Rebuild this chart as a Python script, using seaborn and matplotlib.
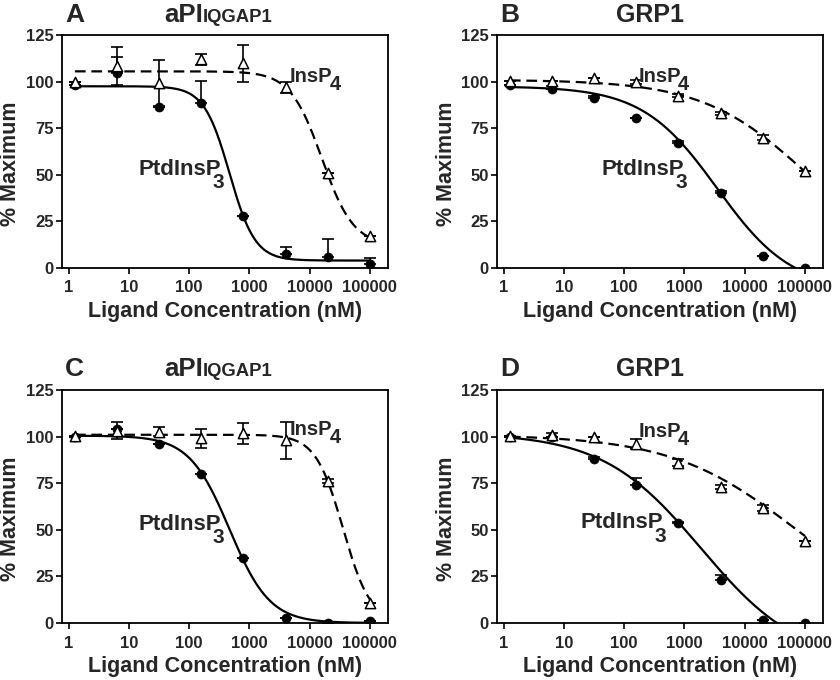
import matplotlib
matplotlib.use("Agg")
import matplotlib.pyplot as plt
import numpy as np
import seaborn as sns
from matplotlib.ticker import FixedLocator, NullLocator

# ligand concentrations (nM), 5-fold dilutions
conc = [1.28, 6.4, 32, 160, 800, 4000, 20000, 100000]
xticks = [1, 10, 100, 1000, 10000, 100000]
xtick_labels = ["1", "10", "100", "1000", "10000", "100000"]
yticks = [0, 25, 50, 75, 100, 125]

# panel A - aPI IQGAP1
a_pip3 = [98, 104.8, 86.6, 88.4, 27.7, 7.5, 5.7, 2.1]
a_pip3_err = [0, 8.2, 0, 11.7, 0, 3.8, 9.8, 3.1]
a_insp4 = [100, 108.4, 99.2, 112, 109.8, 97, 50.9, 17]
a_insp4_err = [0, 10, 12.5, 3, 10, 3, 0, 0]
# panel B - GRP1
b_pip3 = [98, 96, 91, 80.7, 67.3, 40.2, 6.2, 0]
b_pip3_err = [0, 1.5, 1.2, 0, 1, 1, 0, 0]
b_insp4 = [100.5, 100.4, 101.8, 99.6, 92.5, 83, 70, 52.3]
b_insp4_err = [0, 0, 0, 1, 1, 0.8, 1.2, 0]
# panel C - aPI IQGAP1
c_pip3 = [100, 103.9, 96, 79.7, 35.1, 2.7, 0, 1]
c_pip3_err = [0, 0, 0, 0, 0, 0, 0, 0]
c_insp4 = [100.3, 103.2, 102.6, 99, 101.7, 98.1, 76.3, 10.9]
c_insp4_err = [0, 4.5, 2.3, 5, 5.5, 10, 1, 0]
# panel D - GRP1
d_pip3 = [100, 99.9, 87.9, 74, 53.4, 23.3, 1.8, 0]
d_pip3_err = [0, 0, 1, 3.6, 1, 2.5, 0, 0]
d_insp4 = [100.5, 100.8, 99.9, 96, 86.1, 73.1, 61.8, 44.2]
d_insp4_err = [0, 1, 0, 2.5, 2, 1, 1.5, 0]

# fitted 4-parameter logistic curves: top, bottom, IC50 (nM), hill slope
a_pip3_fit = (97.5, 4, 470, 2.05)
a_insp4_fit = (105.5, 12, 16000, 1.65)
b_pip3_fit = (97.5, -12, 3500, 0.7)
b_insp4_fit = (101, 0, 110000, 0.5)
c_pip3_fit = (100.5, 0, 470, 1.3)
c_insp4_fit = (101, 0, 36000, 1.9)
d_pip3_fit = (102, -22, 1900, 0.53)
d_insp4_fit = (101, 0, 70000, 0.42)

W, H = 840, 680

sns.set_style("ticks")
plt.rcParams["font.family"] = ["Liberation Sans", "DejaVu Sans"]
plt.rcParams["font.weight"] = "bold"


def logistic(x, fit):
    top, bottom, ic50, hill = fit
    return bottom + (top - bottom) / (1 + (x / ic50) ** hill)


def fpos(x, y):
    return x / W, 1 - y / H


def draw_panel(ax, pip3, pip3_err, insp4, insp4_err, pip3_fit, insp4_fit, lab_pip3, lab_insp4):
    xs = np.logspace(np.log10(conc[0]), np.log10(conc[-1]), 400)
    sns.lineplot(x=xs, y=logistic(xs, pip3_fit), ax=ax, color="black", lw=1.6)
    sns.lineplot(x=xs, y=logistic(xs, insp4_fit), ax=ax, color="black", lw=1.6)
    ax.get_lines()[-1].set_linestyle((0, (4.8, 2.6)))

    ax.errorbar(conc, pip3, yerr=[np.zeros(len(conc)), pip3_err], fmt="none",
                ecolor="black", elinewidth=1.2, capsize=4, capthick=1.2, zorder=3)
    ax.errorbar(conc, insp4, yerr=insp4_err, fmt="none",
                ecolor="black", elinewidth=1.2, capsize=4, capthick=1.2, zorder=3)
    sns.scatterplot(x=conc, y=pip3, ax=ax, marker="o", s=42, color="black",
                    edgecolor="black", zorder=4)
    sns.scatterplot(x=conc, y=insp4, ax=ax, marker="^", s=55, color="white",
                    edgecolor="black", linewidth=1.1, zorder=5)

    ax.set_xscale("log")
    ax.set_xlim(0.78, 2.0e5)
    ax.set_ylim(0, 125)
    ax.xaxis.set_major_locator(FixedLocator(xticks))
    ax.xaxis.set_minor_locator(NullLocator())
    ax.set_xticklabels(xtick_labels)
    ax.set_yticks(yticks)
    ax.tick_params(axis="both", labelsize=12, length=4, width=1.2, pad=2, color="black")
    ax.tick_params(axis="x", pad=5)
    for side in ["top", "right", "bottom", "left"]:
        ax.spines[side].set_visible(True)
        ax.spines[side].set_linewidth(1.3)
        ax.spines[side].set_color("black")
    ax.set_xlabel("")
    ax.set_ylabel("")

    # curve labels with dropped subscripts
    x3, y3 = lab_pip3
    ax.text(x3, y3, "PtdInsP", fontsize=16, ha="right", va="baseline")
    ax.annotate("3", (x3, y3), xytext=(-6.5, -9.6), textcoords="offset points",
                fontsize=15, ha="left", va="baseline")
    x4, y4 = lab_insp4
    ax.text(x4, y4, "InsP", fontsize=14.5, ha="right", va="baseline")
    ax.annotate("4", (x4, y4), xytext=(-2.2, -6.0), textcoords="offset points",
                fontsize=14.5, ha="left", va="baseline")


fig = plt.figure(figsize=(W / 100, H / 100), dpi=100)

panels = [
    # left px, bottom px, letter, title, data..., label positions
    (62, 268, "A", "aPI", a_pip3, a_pip3_err, a_insp4, a_insp4_err, a_pip3_fit, a_insp4_fit, (345, 49.9), (23900, 100)),
    (497, 268, "B", "GRP1", b_pip3, b_pip3_err, b_insp4, b_insp4_err, b_pip3_fit, b_insp4_fit, (1000, 49.9), (891, 100)),
    (62, 623, "C", "aPI", c_pip3, c_pip3_err, c_insp4, c_insp4_err, c_pip3_fit, c_insp4_fit, (345, 49.9), (23900, 100.9)),
    (497, 623, "D", "GRP1", d_pip3, d_pip3_err, d_insp4, d_insp4_err, d_pip3_fit, d_insp4_fit, (447, 50.8), (891, 100)),
]

for (left, bottom, letter, title, p3, p3e, p4, p4e, f3, f4, l3, l4) in panels:
    ax = fig.add_axes([left / W, 1 - bottom / H, 326 / W, 233 / H])
    draw_panel(ax, p3, p3e, p4, p4e, f3, f4, l3, l4)

    top = bottom - 233
    base = top - 13.5
    fig.text(*fpos(left + 3, base), letter, fontsize=19, va="baseline", ha="left")
    if title == "aPI":
        fig.text(*fpos(left + 141, base), "aPI", fontsize=18.5, va="baseline", ha="right")
        fig.text(*fpos(left + 141, base), "IQGAP1", fontsize=13.3, va="baseline", ha="left")
    else:
        fig.text(*fpos(left + 153, base), "GRP1", fontsize=18, va="baseline", ha="center")

    fig.text(*fpos(left + 163, bottom + 49), "Ligand Concentration (nM)", fontsize=15.5,
             va="baseline", ha="center")
    fig.text(*fpos(left - 51, bottom - 104), "% Maximum", fontsize=15.5, rotation=90,
             va="center", ha="center")

fig.savefig("out.png", dpi=100)
